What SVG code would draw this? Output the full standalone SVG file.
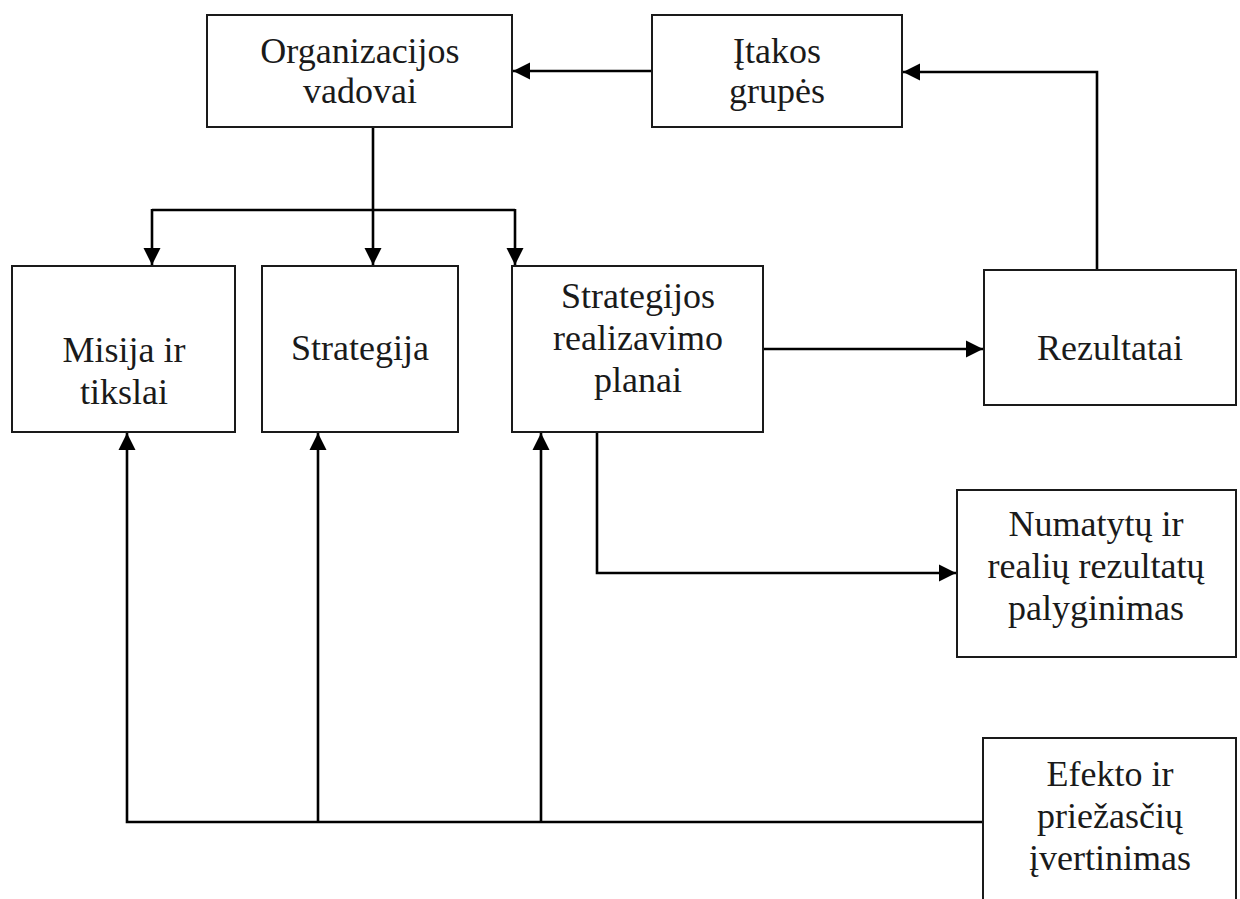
<svg xmlns="http://www.w3.org/2000/svg" width="1240" height="899" viewBox="0 0 1240 899">
  <style>
    .box { fill: #ffffff; stroke: #1a1a1a; stroke-width: 2; }
    .lbl { font-family: "Liberation Serif", "Times New Roman", serif; font-size: 36px; fill: #1a1a1a; text-anchor: middle; }
    .wire { fill: none; stroke: #000000; stroke-width: 2.6; }
  </style>
  <defs>
    <marker id="arrow" viewBox="0 0 10 10" refX="10" refY="5" markerWidth="6.6" markerHeight="6.6" markerUnits="strokeWidth" orient="auto">
      <path d="M0,0 L10,5 L0,10 Z" fill="#000000"/>
    </marker>
  </defs>
  <rect width="1240" height="899" fill="#ffffff"/>

  <g id="connectors">
    <!-- Įtakos grupės -> Organizacijos vadovai -->
    <line class="wire" x1="652" y1="71" x2="513" y2="71" marker-end="url(#arrow)"/>
    <!-- Rezultatai -> Įtakos grupės -->
    <polyline class="wire" points="1097,270 1097,72 903,72" marker-end="url(#arrow)"/>
    <!-- Organizacijos vadovai -> lower row -->
    <line class="wire" x1="373" y1="127" x2="373" y2="265" marker-end="url(#arrow)"/>
    <line class="wire" x1="152" y1="210" x2="515" y2="210"/>
    <line class="wire" x1="152" y1="209" x2="152" y2="265" marker-end="url(#arrow)"/>
    <line class="wire" x1="515" y1="209" x2="515" y2="265" marker-end="url(#arrow)"/>
    <!-- Strategijos realizavimo planai -> Rezultatai -->
    <line class="wire" x1="763" y1="349" x2="983" y2="349" marker-end="url(#arrow)"/>
    <!-- Strategijos realizavimo planai -> Numatytų ir realių rezultatų palyginimas -->
    <polyline class="wire" points="597,432 597,573 956,573" marker-end="url(#arrow)"/>
    <!-- Efekto ir priežasčių įvertinimas -> lower row -->
    <polyline class="wire" points="983,822 127,822 127,433" marker-end="url(#arrow)"/>
    <line class="wire" x1="318" y1="822" x2="318" y2="433" marker-end="url(#arrow)"/>
    <line class="wire" x1="541" y1="822" x2="541" y2="433" marker-end="url(#arrow)"/>
  </g>

  <g id="node-organizacijos-vadovai">
    <rect class="box" x="207" y="15" width="305" height="112"/>
    <text class="lbl" x="360" y="63">Organizacijos</text>
    <text class="lbl" x="360" y="103">vadovai</text>
  </g>

  <g id="node-itakos-grupes">
    <rect class="box" x="652" y="15" width="250" height="112"/>
    <text class="lbl" x="777" y="63">Įtakos</text>
    <text class="lbl" x="777" y="103">grupės</text>
  </g>

  <g id="node-misija">
    <rect class="box" x="12" y="266" width="223" height="166"/>
    <text class="lbl" x="124" y="362">Misija ir</text>
    <text class="lbl" x="124" y="404">tikslai</text>
  </g>

  <g id="node-strategija">
    <rect class="box" x="262" y="266" width="196" height="166"/>
    <text class="lbl" x="360" y="360">Strategija</text>
  </g>

  <g id="node-strategijos-realizavimo-planai">
    <rect class="box" x="512" y="266" width="251" height="166"/>
    <text class="lbl" x="638" y="308">Strategijos</text>
    <text class="lbl" x="638" y="350">realizavimo</text>
    <text class="lbl" x="638" y="392">planai</text>
  </g>

  <g id="node-rezultatai">
    <rect class="box" x="984" y="270" width="252" height="135"/>
    <text class="lbl" x="1110" y="360">Rezultatai</text>
  </g>

  <g id="node-palyginimas">
    <rect class="box" x="957" y="490" width="279" height="167"/>
    <text class="lbl" x="1096" y="536">Numatytų ir</text>
    <text class="lbl" x="1096" y="578">realių rezultatų</text>
    <text class="lbl" x="1096" y="620">palyginimas</text>
  </g>

  <g id="node-efekto-vertinimas">
    <rect class="box" x="983" y="738" width="253" height="175"/>
    <text class="lbl" x="1110" y="786">Efekto ir</text>
    <text class="lbl" x="1110" y="828">priežasčių</text>
    <text class="lbl" x="1110" y="870">įvertinimas</text>
  </g>
</svg>
